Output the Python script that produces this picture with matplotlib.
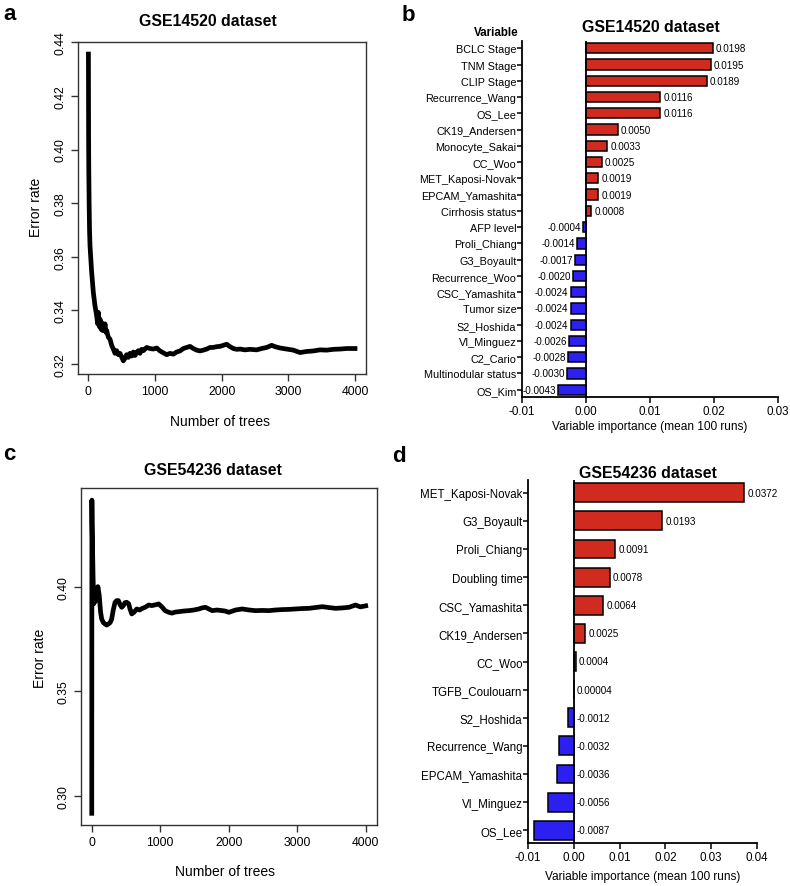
import numpy as np
import matplotlib
matplotlib.use('Agg')
import matplotlib.pyplot as plt

plt.rcParams['font.family'] = ['Liberation Sans', 'DejaVu Sans']

# --- panel a: OOB error vs number of trees (GSE14520)
trees_a = [1, 2, 4, 7, 12, 18, 25, 50, 75, 100, 125, 140, 150, 165, 175, 190, 200,
           215, 225, 240, 250, 265, 275, 300, 325, 350, 375, 400, 425, 450, 475,
           500, 525, 550, 575, 600, 625, 650, 675, 700, 725, 750, 775, 800, 825,
           875, 925, 975, 1025, 1075, 1125, 1175, 1225, 1275, 1325, 1375, 1425,
           1475, 1525, 1575, 1625, 1675, 1725, 1775, 1825, 1875, 1925, 1975, 2025,
           2075, 2125, 2175, 2225, 2275, 2350, 2425, 2525, 2600, 2675, 2750, 2800,
           2875, 2975, 3075, 3175, 3275, 3375, 3475, 3575, 3675, 3775, 3875, 4000]
err_a = [0.4356, 0.4290, 0.4050, 0.3920, 0.3800, 0.3700, 0.3641, 0.3542, 0.3467,
         0.3417, 0.3380, 0.3350, 0.3393, 0.3340, 0.3368, 0.3330, 0.3355, 0.3325,
         0.3343, 0.3330, 0.3350, 0.3318, 0.3325, 0.3300, 0.3293, 0.3270, 0.3256,
         0.3240, 0.3250, 0.3235, 0.3240, 0.3226, 0.3212, 0.3222, 0.3235, 0.3225,
         0.3240, 0.3230, 0.3245, 0.3232, 0.3244, 0.3250, 0.3240, 0.3255, 0.3250,
         0.3262, 0.3258, 0.3256, 0.3260, 0.3249, 0.3242, 0.3235, 0.3240, 0.3237,
         0.3245, 0.3249, 0.3258, 0.3262, 0.3266, 0.3258, 0.3252, 0.3249, 0.3252,
         0.3256, 0.3262, 0.3262, 0.3265, 0.3266, 0.3270, 0.3274, 0.3265, 0.3258,
         0.3255, 0.3256, 0.3253, 0.3255, 0.3253, 0.3258, 0.3262, 0.3270, 0.3265,
         0.3260, 0.3256, 0.3252, 0.3243, 0.3247, 0.3249, 0.3253, 0.3252, 0.3255,
         0.3256, 0.3258, 0.3258]

# --- panel c: OOB error vs number of trees (GSE54236)
trees_c = [1, 3, 6, 12, 20, 30, 40, 50, 60, 75, 90, 110, 130, 146, 170, 195, 220,
           244, 270, 292, 315, 341, 365, 390, 415, 438, 460, 485, 511, 540, 560,
           585, 620, 658, 700, 740, 780, 833, 877, 930, 979, 1025, 1072, 1125,
           1169, 1220, 1271, 1340, 1418, 1490, 1564, 1610, 1661, 1710, 1758, 1830,
           1904, 1950, 2002, 2100, 2197, 2300, 2392, 2490, 2587, 2680, 2781, 2880,
           2976, 3070, 3171, 3270, 3366, 3460, 3561, 3660, 3756, 3853, 3920, 4000]
err_c = [0.2917, 0.4416, 0.4300, 0.4198, 0.4050, 0.3920, 0.3985, 0.3930, 0.3990,
         0.3940, 0.4002, 0.3960, 0.3880, 0.3847, 0.3830, 0.3823, 0.3818, 0.3823,
         0.3830, 0.3847, 0.3890, 0.3927, 0.3935, 0.3935, 0.3915, 0.3903, 0.3910,
         0.3925, 0.3927, 0.3920, 0.3895, 0.3871, 0.3880, 0.3895, 0.3890, 0.3898,
         0.3903, 0.3914, 0.3911, 0.3915, 0.3919, 0.3905, 0.3887, 0.3879, 0.3875,
         0.3880, 0.3882, 0.3885, 0.3887, 0.3890, 0.3895, 0.3900, 0.3903, 0.3895,
         0.3887, 0.3890, 0.3887, 0.3885, 0.3879, 0.3890, 0.3895, 0.3890, 0.3887,
         0.3888, 0.3887, 0.3890, 0.3892, 0.3893, 0.3895, 0.3897, 0.3898, 0.3902,
         0.3906, 0.3902, 0.3898, 0.3900, 0.3903, 0.3914, 0.3905, 0.3910]

# --- panel b: variable importance (GSE14520)
vars_b = ['BCLC Stage', 'TNM Stage', 'CLIP Stage', 'Recurrence_Wang', 'OS_Lee',
          'CK19_Andersen', 'Monocyte_Sakai', 'CC_Woo', 'MET_Kaposi-Novak',
          'EPCAM_Yamashita', 'Cirrhosis status', 'AFP level', 'Proli_Chiang',
          'G3_Boyault', 'Recurrence_Woo', 'CSC_Yamashita', 'Tumor size',
          'S2_Hoshida', 'VI_Minguez', 'C2_Cario', 'Multinodular status', 'OS_Kim']
imp_b = [0.0198, 0.0195, 0.0189, 0.0116, 0.0116, 0.0050, 0.0033, 0.0025, 0.0019,
         0.0019, 0.0008, -0.0004, -0.0014, -0.0017, -0.0020, -0.0024, -0.0024,
         -0.0024, -0.0026, -0.0028, -0.0030, -0.0043]

# --- panel d: variable importance (GSE54236)
vars_d = ['MET_Kaposi-Novak', 'G3_Boyault', 'Proli_Chiang', 'Doubling time',
          'CSC_Yamashita', 'CK19_Andersen', 'CC_Woo', 'TGFB_Coulouarn',
          'S2_Hoshida', 'Recurrence_Wang', 'EPCAM_Yamashita', 'VI_Minguez', 'OS_Lee']
imp_d = [0.0372, 0.0193, 0.0091, 0.0078, 0.0064, 0.0025, 0.0004, 0.00004,
         -0.0012, -0.0032, -0.0036, -0.0056, -0.0087]

RED = '#D12A1F'
BLUE = '#2B20F0'
W, H = 790, 887


def rect(l, t, r, b):
    return [l / W, 1 - b / H, (r - l) / W, (b - t) / H]


def ftext(x, y, s, **kw):
    return fig.text(x / W, 1 - y / H, s, **kw)


def fmt(v):
    if abs(v) < 0.0001:
        return f'{v:.5f}'
    return f'{v:.4f}'


fig = plt.figure(figsize=(W / 100, H / 100), dpi=100)


def error_panel(box, trees, err, xlim, ylim, yticks):
    ax = fig.add_axes(rect(*box))
    ax.plot(trees, err, color='black', lw=3.4, solid_joinstyle='round')
    ax.set_xlim(*xlim)
    ax.set_ylim(*ylim)
    ax.set_xticks([0, 1000, 2000, 3000, 4000])
    ax.set_yticks(yticks)
    ax.set_yticklabels([f'{t:.2f}' for t in yticks])
    for s in ax.spines.values():
        s.set_color('#333333')
        s.set_linewidth(1.0)
    ax.tick_params(direction='out', length=5, width=1, color='#333333',
                   labelsize=8.8, pad=3)
    plt.setp(ax.get_yticklabels(), rotation=90, va='center')
    return ax


error_panel((78, 43, 366, 375), trees_a, err_a, (-155, 4165), (0.3163, 0.4401),
            [0.32, 0.34, 0.36, 0.38, 0.40, 0.42, 0.44])
ftext(208, 26, 'GSE14520 dataset', ha='center', va='baseline', weight='bold', size=11.4)
ftext(36, 207, 'Error rate', ha='center', va='center', rotation=90, size=10)
ftext(220, 422, 'Number of trees', ha='center', va='center', size=10)

error_panel((81, 489, 377, 826), trees_c, err_c, (-156, 4165), (0.2861, 0.4474),
            [0.30, 0.35, 0.40])
ftext(213, 475, 'GSE54236 dataset', ha='center', va='baseline', weight='bold', size=11.4)
ftext(40, 658, 'Error rate', ha='center', va='center', rotation=90, size=10)
ftext(225, 872, 'Number of trees', ha='center', va='center', size=10)


def importance_panel(box, names, vals, xticks, bar_h, ylabsize, neg_right):
    ax = fig.add_axes(rect(*box))
    n = len(names)
    y = np.arange(n)
    colors = [RED if v >= 0 else BLUE for v in vals]
    ax.barh(y, vals, height=bar_h, color=colors, edgecolor='black', linewidth=1.1)
    ax.axvline(0, color='black', lw=1.3, zorder=3)
    ax.set_ylim(n - 1 + 0.45, -0.45)
    ax.set_xlim(xticks[0], xticks[-1])
    ax.set_xticks(xticks)
    ax.set_xticklabels([f'{t:.2f}' for t in xticks])
    ax.set_yticks(y)
    ax.set_yticklabels(names)
    for side in ('top', 'right'):
        ax.spines[side].set_visible(False)
    for side in ('left', 'bottom'):
        ax.spines[side].set_linewidth(1.3)
    ax.tick_params(axis='y', length=3.5, width=1.1, pad=0.5, labelsize=ylabsize)
    ax.tick_params(axis='x', length=4, width=1.1, pad=1.5, labelsize=8.4)
    for yi, v in zip(y, vals):
        if v >= 0:
            ax.annotate(fmt(v), (v, yi), xytext=(2.2, 0), textcoords='offset points',
                        ha='left', va='center', size=7.1)
        elif neg_right:
            ax.annotate(fmt(v), (0, yi), xytext=(2.2, 0), textcoords='offset points',
                        ha='left', va='center', size=7.1)
        else:
            ax.annotate(fmt(v), (v, yi), xytext=(-1.5, 0), textcoords='offset points',
                        ha='right', va='center', size=7.1)
    return ax


importance_panel((522, 42, 778, 398), vars_b, imp_b, [-0.01, 0.0, 0.01, 0.02, 0.03],
                 0.63, 7.8, False)
ftext(651, 32, 'GSE14520 dataset', ha='center', va='baseline', weight='bold', size=11.4)
ftext(519, 33, 'Variable', ha='right', va='center', weight='bold', size=8.4)
ftext(650, 427, 'Variable importance (mean 100 runs)', ha='center', va='center', size=8.6)

importance_panel((528, 481, 757, 844), vars_d, imp_d,
                 [-0.01, 0.0, 0.01, 0.02, 0.03, 0.04], 0.67, 8.3, True)
ftext(648, 478, 'GSE54236 dataset', ha='center', va='baseline', weight='bold', size=11.4)
ftext(643, 877, 'Variable importance (mean 100 runs)', ha='center', va='center', size=8.6)

# panel letters
ftext(3, 20, 'a', ha='left', va='baseline', weight='bold', size=16)
ftext(402, 21, 'b', ha='left', va='baseline', weight='bold', size=16)
ftext(3, 460, 'c', ha='left', va='baseline', weight='bold', size=16)
ftext(392, 462, 'd', ha='left', va='baseline', weight='bold', size=16)

fig.savefig('out.png', dpi=100)
